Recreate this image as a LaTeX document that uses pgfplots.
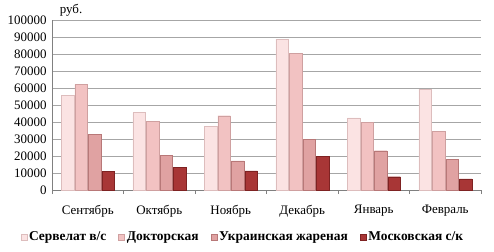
\documentclass[border=0pt]{standalone}
\usepackage{fontspec}
\setmainfont{Liberation Serif}
\usepackage{pgfplots}
\pgfplotsset{compat=1.18}
\definecolor{cA}{HTML}{FBE3E3}
\definecolor{cAe}{HTML}{DDBDBD}
\definecolor{cB}{HTML}{F2C2C2}
\definecolor{cBe}{HTML}{CFA0A0}
\definecolor{cC}{HTML}{E0A2A2}
\definecolor{cCe}{HTML}{B87878}
\definecolor{cD}{HTML}{A83636}
\definecolor{cDe}{HTML}{7E2222}
\begin{document}
\begin{tikzpicture}
\begin{axis}[
  scale only axis,
  width=429bp, height=170bp,
  ybar=1bp, bar width=12.5bp,
  xmin=-0.5, xmax=5.5,
  ymin=0, ymax=100000,
  ytick={0,10000,...,100000},
  xtick={0,1,2,3,4,5},
  xticklabels={Сентябрь,Октябрь,Ноябрь,Декабрь,Январь,Февраль},
  minor xtick={-0.5,0.5,1.5,2.5,3.5,4.5,5.5},
  major x tick style={draw=none},
  minor x tick style={gray},
  xtick align=outside,
  minor tick length=4bp,
  ytick style={draw=none},
  ymajorgrids, grid style={gray!70, line width=0.6pt},
  axis x line*=bottom, axis y line*=left,
  axis line style={gray},
  x axis line style={-}, y axis line style={-},
  scaled y ticks=false,
  /pgf/number format/assume math mode=true,
  yticklabel={\pgfmathprintnumber[fixed,1000 sep={}]{\tick}},
  tick label style={font=\fontsize{13}{15}\selectfont},
  xticklabel style={yshift=-7bp},
  yticklabel style={xshift=-2bp},
  legend style={at={(0.445,-0.22)}, anchor=north, draw=none, legend columns=4,
    font=\fontsize{13.5}{15}\selectfont\bfseries, /tikz/every even column/.append style={column sep=10bp}},
  legend image code/.code={\draw[#1] (0bp,-3bp) rectangle (6bp,3bp);},
  legend cell align=left,
  clip=false,
]
\addplot[draw=cAe, fill=cA] coordinates {(0,55500) (1,45500) (2,37400) (3,88800) (4,42500) (5,59400)};
\addplot[draw=cBe, fill=cB] coordinates {(0,62100) (1,40200) (2,43700) (3,80500) (4,39600) (5,34500)};
\addplot[draw=cCe, fill=cC] coordinates {(0,32800) (1,20300) (2,17200) (3,30000) (4,23100) (5,18000)};
\addplot[draw=cDe, fill=cD] coordinates {(0,11000) (1,13500) (2,11300) (3,20000) (4,7800) (5,6600)};
\legend{Сервелат в/с,Докторская,Украинская жареная,Московская с/к}
\node[anchor=south west, font=\fontsize{13}{15}\selectfont] at (rel axis cs:0.01,1) {руб.};
\coordinate (O) at (rel axis cs:0,0);
\coordinate (T) at (rel axis cs:1,1);
\end{axis}
\pgfresetboundingbox
\path[use as bounding box] ([shift={(-52bp,-61bp)}]O) rectangle ([shift={(13bp,20bp)}]T);
\end{tikzpicture}
\end{document}
